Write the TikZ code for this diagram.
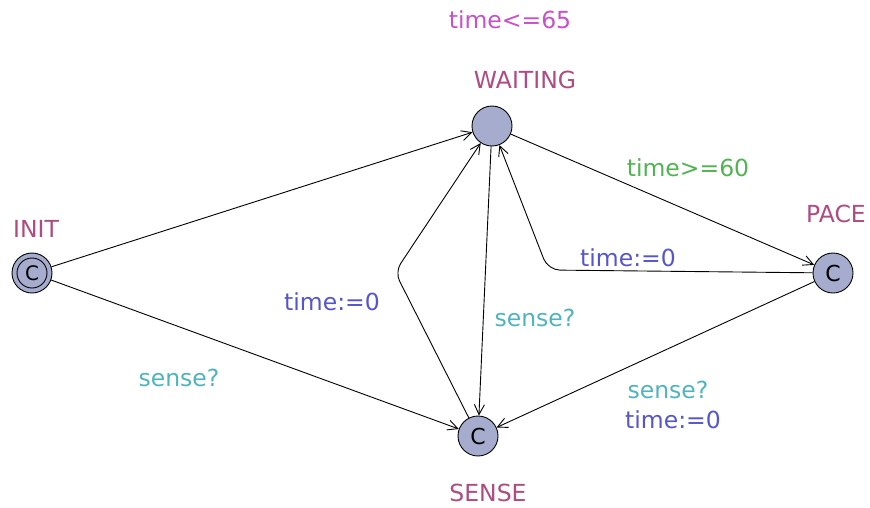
\documentclass[tikz,border=0pt]{standalone}
\usepackage{fontspec}
\setmainfont{DejaVu Sans}
\usetikzlibrary{arrows.meta}
\definecolor{locname}{RGB}{175,75,130}
\definecolor{inv}{RGB}{200,80,200}
\definecolor{guard}{RGB}{80,180,80}
\definecolor{assign}{RGB}{85,85,205}
\definecolor{sync}{RGB}{80,180,190}
\definecolor{locfill}{RGB}{165,172,205}
\tikzset{
  loc/.style={circle,draw=black,fill=locfill,minimum size=40pt,inner sep=0pt,line width=0.9pt,font=\fontsize{22}{22}\selectfont},
  lbl/.style={font=\fontsize{23.5}{23.5}\selectfont,inner sep=0pt},
  edge/.style={line width=0.9pt,-{Straight Barb[length=10pt,width=10pt]}},
}
\begin{document}
\begin{tikzpicture}[x=1pt,y=-1pt]
\useasboundingbox (0,0) rectangle (870,507);
\node[loc] (init) at (32,273) {};
\node[circle,draw=black,line width=0.9pt,minimum size=30pt,inner sep=0pt,font=\fontsize{20}{20}\selectfont] (initin) at (32,273) {C};
\node[loc] (waiting) at (492,126) {};
\node[loc] (pace) at (833,273) {C};
\node[loc] (sense) at (478,436) {C};

\node[lbl,text=locname] (ninit) at (36,229) {INIT};
\node[lbl,text=locname] (nwait) at (525,80) {WAITING};
\node[lbl,text=locname] (npace) at (836,214) {PACE};
\node[lbl,text=locname] (nsense) at (488,493) {SENSE};
\node[lbl,text=inv] (invw) at (510,20) {time<=65};

\coordinate (b1) at (548,270);
\coordinate (b2) at (395,272);

\draw[edge] (init) -- (waiting);
\draw[edge] (init) -- (sense);
\draw[edge] (waiting) -- (pace);
\draw[edge,rounded corners=12pt] (pace) -- (b1) -- (waiting);
\draw[edge] (waiting) -- (sense);
\draw[edge,rounded corners=10pt] (sense) -- (b2) -- (waiting);
\draw[edge] (pace) -- (sense);

\node[lbl,text=sync] (l1) at (179,378) {sense?};
\node[lbl,text=guard] (l2) at (688,168) {time>=60};
\node[lbl,text=assign] (l3) at (628,258) {time:=0};
\node[lbl,text=sync] (l4) at (535,318) {sense?};
\node[lbl,text=assign] (l5) at (332,302) {time:=0};
\node[lbl,text=sync] (l6) at (668,390) {sense?};
\node[lbl,text=assign] (l7) at (673,420) {time:=0};
\end{tikzpicture}
\end{document}
